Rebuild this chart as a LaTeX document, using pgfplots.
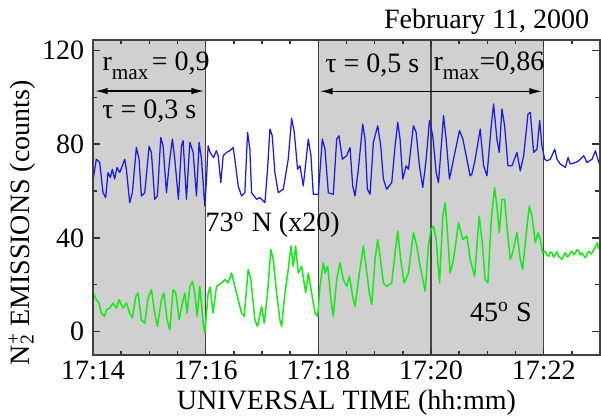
\documentclass[border=0pt]{standalone}
\usepackage{fontspec}
\setmainfont{Liberation Serif}
\usepackage{pgfplots}
\pgfplotsset{compat=1.18}
\usetikzlibrary{arrows.meta}

\definecolor{shade}{RGB}{208,208,208}
\definecolor{axgray}{RGB}{70,70,70}
\definecolor{bl}{RGB}{25,25,235}
\definecolor{gr}{RGB}{20,235,20}

\newcommand{\fs}{\fontsize{11.2}{13}\selectfont}
\newcommand{\subfs}{\fontsize{8.5}{9}\selectfont}

% t in minutes after 17:14
\pgfplotstableread{
t v
0 64.3
0.059 73.6
0.119 72.2
0.178 59.3
0.225 57.2
0.267 67.9
0.308 65.8
0.344 69.3
0.385 65.1
0.427 70.1
0.474 67.9
0.521 70.8
0.563 73.6
0.593 69.3
0.652 55.0
0.699 59.3
0.770 78.6
0.818 73.6
0.859 57.9
0.919 59.3
0.996 79.1
1.037 76.5
1.096 56.5
1.144 57.9
1.203 82.9
1.244 79.3
1.304 59.3
1.363 73.6
1.410 82.2
1.452 73.6
1.517 56.5
1.570 79.3
1.600 81.5
1.659 56.5
1.719 80.8
1.778 76.5
1.837 57.9
1.884 80.8
1.926 73.6
1.985 53.6
2.015 65.1
2.044 79.3
2.08 76.5
2.14 74.3
2.19 77.2
2.222 75.1
2.269 63.6
2.311 75.1
2.370 76.5
2.429 77.2
2.489 78.6
2.518 73.6
2.578 62.2
2.637 57.9
2.696 59.3
2.744 85.1
2.785 77.9
2.815 59.3
2.904 56.5
2.963 57.2
3.052 55.0
3.099 69.3
3.141 86.5
3.182 83.6
3.229 67.9
3.289 59.3
3.378 60.8
3.466 73.6
3.526 91.1
3.573 85.1
3.632 69.3
3.674 70.8
3.733 62.2
3.822 82.2
3.869 75.1
3.911 58.6
4.000 58.6
4.071 82.2
4.118 77.9
4.178 59.3
4.266 58.6
4.326 82.2
4.367 83.6
4.426 73.6
4.503 75.1
4.563 78.6
4.610 62.2
4.651 57.9
4.711 69.3
4.788 88.6
4.829 82.2
4.871 60.8
4.918 58.6
4.977 80.8
5.054 87.9
5.108 79.3
5.155 65.1
5.214 60.8
5.303 63.6
5.363 79.3
5.410 89.4
5.451 82.2
5.499 65.1
5.558 70.8
5.600 69.3
5.688 87.9
5.736 85.1
5.795 70.8
5.854 61.5
5.914 73.6
5.973 90.1
6.032 83.6
6.092 67.9
6.133 63.6
6.192 82.2
6.222 92.2
6.269 82.2
6.328 65.1
6.400 73.6
6.506 85.8
6.566 82.2
6.637 73.6
6.696 66.5
6.726 67.2
6.785 73.6
6.874 86.5
6.934 70.8
6.993 66.5
7.070 87.9
7.111 97.2
7.170 82.2
7.212 76.5
7.259 95.1
7.307 87.9
7.366 70.8
7.437 70.8
7.526 76.5
7.585 68.6
7.645 75.1
7.722 92.9
7.763 93.6
7.822 76.5
7.882 77.9
7.929 90.1
7.970 79.3
8.018 73.6
8.059 72.9
8.119 73.6
8.196 77.9
8.237 73.6
8.296 71.5
8.385 70.1
8.433 74.3
8.474 71.5
8.563 72.2
8.622 72.9
8.711 75.1
8.770 72.2
8.859 73.6
8.919 77.2
8.978 72.2
9.000 72.9
}\northdata

\pgfplotstableread{
t v
0 16.5
0.059 13.6
0.107 12.2
0.148 7.9
0.207 6.5
0.237 9.3
0.296 10.0
0.356 12.2
0.415 10.0
0.462 13.6
0.533 10.0
0.593 12.2
0.652 7.9
0.699 5.8
0.759 15.0
0.800 16.5
0.859 5.0
0.919 3.6
0.978 14.3
1.037 17.9
1.096 7.9
1.144 2.2
1.215 13.6
1.256 16.5
1.316 5.0
1.363 0.8
1.422 17.9
1.470 16.5
1.529 5.0
1.588 12.2
1.630 16.5
1.671 7.9
1.719 19.3
1.766 21.5
1.807 16.5
1.849 6.5
1.896 19.3
1.956 3.6
1.985 -0.7
2.044 16.5
2.08 19.0
2.13 8.0
2.193 19.3
2.281 20.8
2.341 22.2
2.400 20.8
2.459 25.0
2.518 19.3
2.578 13.6
2.637 7.9
2.684 6.5
2.755 26.5
2.803 22.2
2.874 5.0
2.921 2.2
2.993 10.8
3.040 3.6
3.099 16.5
3.158 35.0
3.200 30.8
3.259 16.5
3.318 5.0
3.348 2.2
3.407 16.5
3.466 26.5
3.514 36.5
3.555 27.9
3.597 36.5
3.644 25.0
3.704 27.9
3.775 16.5
3.822 25.0
3.881 16.5
3.941 7.9
3.988 6.5
4.029 19.3
4.089 29.3
4.118 25.0
4.166 27.9
4.225 13.6
4.266 6.5
4.326 22.2
4.385 29.3
4.444 22.2
4.503 19.3
4.551 23.6
4.610 15.0
4.651 10.8
4.729 25.0
4.800 36.5
4.847 27.9
4.906 16.5
4.948 11.5
5.007 30.8
5.054 39.3
5.096 32.2
5.155 20.8
5.214 19.3
5.303 20.8
5.363 33.6
5.410 42.9
5.463 30.8
5.523 20.8
5.600 25.0
5.688 42.2
5.748 36.5
5.807 27.9
5.896 17.2
5.955 36.5
5.997 43.6
6.044 45.0
6.092 39.3
6.151 20.8
6.210 49.3
6.252 55.0
6.293 42.2
6.340 25.0
6.400 30.8
6.489 46.5
6.566 39.3
6.637 40.8
6.696 30.8
6.774 23.6
6.856 49.3
6.904 39.3
6.963 22.2
7.010 20.8
7.070 47.9
7.129 61.5
7.170 53.6
7.212 42.2
7.259 56.5
7.307 56.5
7.348 45.0
7.407 30.8
7.449 33.6
7.526 42.2
7.585 30.8
7.627 26.5
7.686 40.8
7.745 53.6
7.793 49.3
7.852 37.9
7.899 42.2
7.941 39.3
7.982 33.6
8.030 34.3
8.060 32.6
8.089 32.2
8.118 34.0
8.148 33.6
8.178 31.8
8.207 32.9
8.237 34.1
8.267 32.2
8.296 31.6
8.326 30.8
8.356 32.5
8.385 33.6
8.415 31.9
8.444 32.2
8.474 33.8
8.504 34.3
8.533 32.8
8.563 33.6
8.592 35.0
8.622 34.3
8.652 32.7
8.682 33.6
8.711 32.4
8.741 31.5
8.770 33.3
8.800 34.3
8.845 33.1
8.889 35.0
8.920 36.0
8.948 37.9
8.975 35.6
9.000 36.5
}\southdata

\begin{document}
\begin{tikzpicture}
\begin{axis}[
    width=202.8pt, height=126pt, scale only axis,
    xmin=0, xmax=9, ymin=-10, ymax=124.5,
    clip=false,
    xtick={0,2,4,6,8},
    xticklabels={17:14,17:16,17:18,17:20,17:22},
    minor xtick={0.5,1,...,8.5},
    ytick={0,40,80,120},
    minor ytick={20,60,100},
    tick align=inside,
    xtick pos=both, ytick pos=both,
    tickwidth=3pt, subtickwidth=1.8pt,
    tick style={black!80, line width=0.6pt},
    axis line style={black!75, line width=0.7pt},
    tick label style={font=\fs},
    xticklabel style={yshift=1pt},
    /pgf/number format/assume math mode=true,
    label style={font=\fs},
    xlabel={UNIVERSAL TIME (hh:mm)},
    xlabel style={at={(rel axis cs:0.5,-0.152)}, anchor=center},
    ylabel={N\rlap{\textsuperscript{+}}\textsubscript{2} EMISSIONS (counts)},
    ylabel style={at={(rel axis cs:-0.14,0.42)}, anchor=center},
    axis on top=true,
]
% shaded intervals
\addplot[fill=shade, draw=none] coordinates {(0,-10)(2,-10)(2,124.5)(0,124.5)} -- cycle;
\addplot[fill=shade, draw=none] coordinates {(4,-10)(8,-10)(8,124.5)(4,124.5)} -- cycle;
% boundaries
\addplot[axgray, line width=0.6pt] coordinates {(2,-10)(2,124.5)};
\addplot[axgray, line width=0.6pt] coordinates {(4,-10)(4,124.5)};
\addplot[axgray, line width=0.6pt] coordinates {(6,-10)(6,124.5)};
\addplot[axgray, line width=0.6pt] coordinates {(8,-10)(8,124.5)};
% data
\addplot[bl, line width=0.5pt, line join=round] table[x=t, y=v] {\northdata};
\addplot[gr, line width=0.6pt, line join=round] table[x=t, y=v] {\southdata};
% inward tick marks (bottom, top, left, right)
\addplot[black!80, line width=0.6pt, unbounded coords=jump] coordinates {
(2,-10)(2,-6.8)(2,nan)(4,-10)(4,-6.8)(4,nan)(6,-10)(6,-6.8)(6,nan)(8,-10)(8,-6.8)(8,nan)
(0.5,-10)(0.5,-8.1)(0.5,nan)(1,-10)(1,-8.1)(1,nan)(1.5,-10)(1.5,-8.1)(1.5,nan)
(2.5,-10)(2.5,-8.1)(2.5,nan)(3,-10)(3,-8.1)(3,nan)(3.5,-10)(3.5,-8.1)(3.5,nan)
(4.5,-10)(4.5,-8.1)(4.5,nan)(5,-10)(5,-8.1)(5,nan)(5.5,-10)(5.5,-8.1)(5.5,nan)
(6.5,-10)(6.5,-8.1)(6.5,nan)(7,-10)(7,-8.1)(7,nan)(7.5,-10)(7.5,-8.1)(7.5,nan)
(8.5,-10)(8.5,-8.1)(8.5,nan)
(2,124.5)(2,121.3)(2,nan)(4,124.5)(4,121.3)(4,nan)(6,124.5)(6,121.3)(6,nan)(8,124.5)(8,121.3)(8,nan)
(0.5,124.5)(0.5,122.6)(0.5,nan)(1,124.5)(1,122.6)(1,nan)(1.5,124.5)(1.5,122.6)(1.5,nan)
(2.5,124.5)(2.5,122.6)(2.5,nan)(3,124.5)(3,122.6)(3,nan)(3.5,124.5)(3.5,122.6)(3.5,nan)
(4.5,124.5)(4.5,122.6)(4.5,nan)(5,124.5)(5,122.6)(5,nan)(5.5,124.5)(5.5,122.6)(5.5,nan)
(6.5,124.5)(6.5,122.6)(6.5,nan)(7,124.5)(7,122.6)(7,nan)(7.5,124.5)(7.5,122.6)(7.5,nan)
(8.5,124.5)(8.5,122.6)(8.5,nan)
(0,0)(0.133,0)(0.1,nan)(0,40)(0.133,40)(0.1,nan)(0,80)(0.133,80)(0.1,nan)(0,120)(0.133,120)(0.1,nan)
(0,20)(0.08,20)(0.1,nan)(0,60)(0.08,60)(0.1,nan)(0,100)(0.08,100)(0.1,nan)
(9,0)(8.867,0)(8.9,nan)(9,40)(8.867,40)(8.9,nan)(9,80)(8.867,80)(8.9,nan)(9,120)(8.867,120)(8.9,nan)
(9,20)(8.92,20)(8.9,nan)(9,60)(8.92,60)(8.9,nan)(9,100)(8.92,100)
};
% arrows
\addplot[black, line width=0.5pt, {Latex[length=5pt,width=2.6pt]}-{Latex[length=5pt,width=2.6pt]}]
    coordinates {(0.04,102.7)(1.97,102.7)};
\addplot[black, line width=0.5pt, {Latex[length=5pt,width=2.6pt]}-{Latex[length=5pt,width=2.6pt]}]
    coordinates {(4.03,102.6)(7.97,102.6)};
% annotations
\node[font=\fs] at (axis cs:1.12,113.5) {r\raisebox{-0.65ex}{\subfs max}\hspace{-1.5pt} = 0,9};
\node[font=\fs] at (axis cs:1.0,94.1) {τ = 0,3 s};
\node[font=\fs] at (axis cs:4.96,113.5) {τ = 0,5 s};
\node[font=\fs] at (axis cs:7.03,113.5) {r\raisebox{-0.65ex}{\subfs max}=0,86};
\node[font=\fs] at (axis cs:3.19,45.7) {73\textsuperscript{o} N (x20)};
\node[font=\fs] at (axis cs:7.24,8.4) {45\textsuperscript{o} S};
\node[font=\fs, anchor=base east] at (rel axis cs:0.996,1.035) {February 11, 2000};
\coordinate (bbl) at (rel axis cs:-0.1834,-0.203);
\coordinate (btr) at (rel axis cs:1.002,1.127);
\end{axis}
\pgfresetboundingbox
\path[use as bounding box] (bbl) rectangle (btr);
\end{tikzpicture}
\end{document}
